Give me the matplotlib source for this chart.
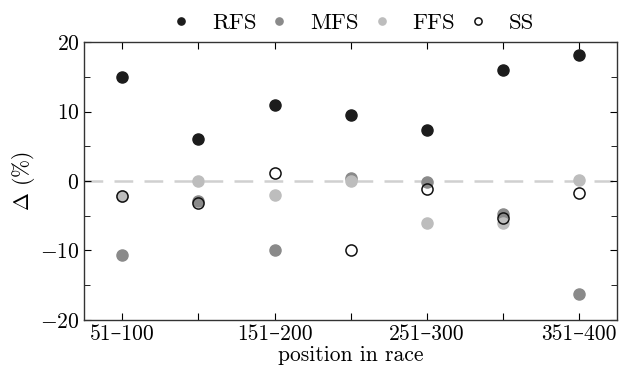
import matplotlib
matplotlib.use("Agg")
import matplotlib.pyplot as plt
from matplotlib.ticker import MultipleLocator

plt.rcParams['font.family'] = ['cmr10', 'DejaVu Serif']
plt.rcParams['mathtext.fontset'] = 'cm'
plt.rcParams['axes.formatter.use_mathtext'] = True
plt.rcParams['axes.unicode_minus'] = True

# position groups in the race
positions = ['51–100', '101–150', '151–200', '201–250', '251–300', '301–350', '351–400']
rfs = [15.0, 6.0, 11.0, 9.5, 7.3, 16.0, 18.1]
mfs = [-10.7, -2.9, -10.0, 0.4, -0.2, -4.7, -16.2]
ffs = [-2.2, 0.0, -2.0, 0.0, -6.0, -6.0, 0.1]
ss = [-2.2, -3.1, 1.1, -10.0, -1.1, -5.3, -1.8]

x = list(range(len(positions)))

fig = plt.figure(figsize=(6.19, 3.72), dpi=100)
ax = fig.add_axes([0.136, 0.140, 0.861, 0.747])

ax.axhline(0, color='#d0d0d0', lw=1.8, ls=(0, (7.5, 4.5)), zorder=1)

ms = 8
ax.plot(x, rfs, 'o', ms=ms, color='#1c1c1c', mec='#1c1c1c', label='RFS', zorder=3)
ax.plot(x, mfs, 'o', ms=ms, color='#8a8a8a', mec='#8a8a8a', label='MFS', zorder=3)
ax.plot(x, ffs, 'o', ms=ms, color='#bdbdbd', mec='#bdbdbd', label='FFS', zorder=4)
ax.plot(x, ss, 'o', ms=ms, mfc='none', mec='#111111', mew=1.1, label='SS', zorder=5)

ax.set_xlim(-0.5, 6.5)
ax.set_ylim(-20, 20)
ax.set_xticks(x)
ax.set_xticklabels([p if i % 2 == 0 else '' for i, p in enumerate(positions)])
ax.yaxis.set_major_locator(MultipleLocator(10))
ax.yaxis.set_minor_locator(MultipleLocator(5))
ax.tick_params(which='both', direction='in', top=True, right=True, labelsize=15.5)
ax.tick_params(which='major', length=5)
ax.tick_params(which='minor', length=4)
for s in ax.spines.values():
    s.set_linewidth(1.0)
    s.set_color('#333333')

ax.set_xlabel('position in race', fontsize=15.5, labelpad=1)
ax.set_ylabel(r'$\Delta$ (%)', fontsize=15.5, labelpad=2)

ax.legend(loc='lower center', bbox_to_anchor=(0.5, 0.99), ncol=4, frameon=False,
          fontsize=16.5, markerscale=0.65, handlelength=1.2, handletextpad=0.75,
          columnspacing=0.4, borderaxespad=0.1)

fig.savefig('out.png', dpi=100)
